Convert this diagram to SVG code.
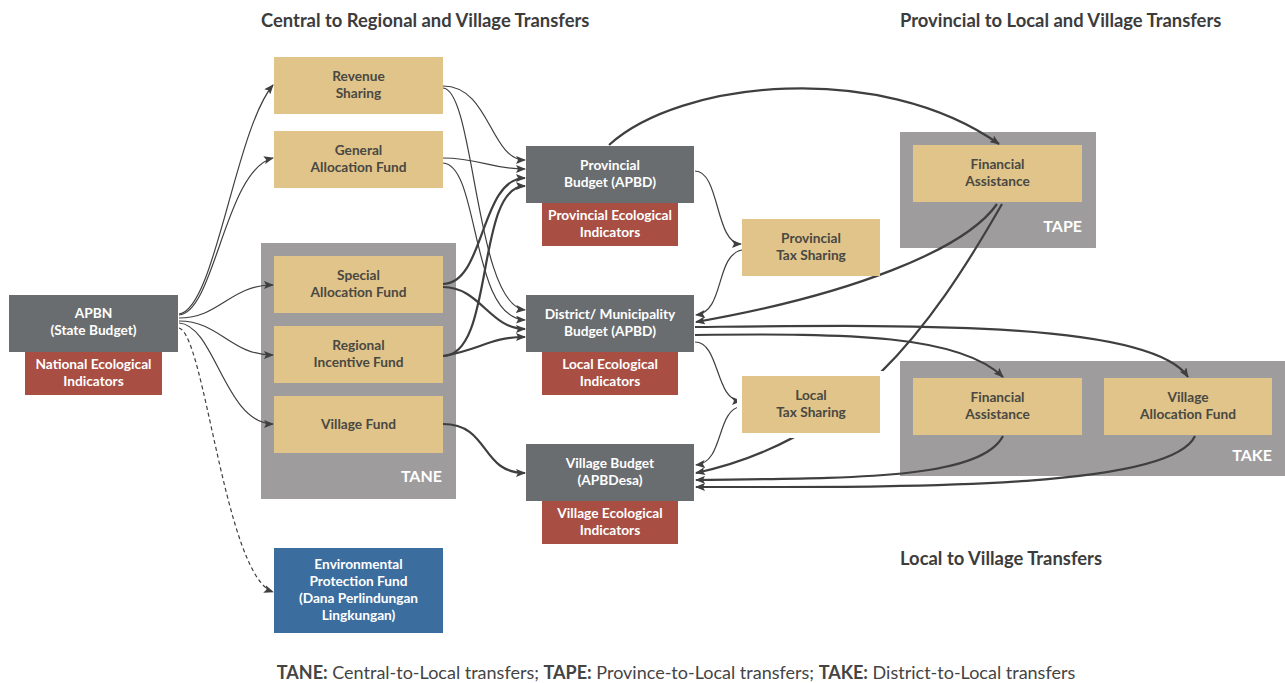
<svg xmlns="http://www.w3.org/2000/svg" width="1285" height="683" viewBox="0 0 1285 683">
<defs>
<style>
.t{font-family:Lato,"Open Sans","Liberation Sans",sans-serif;font-weight:700;font-size:13.7px;text-anchor:middle}
.dk{fill:#4a4843}
.wh{fill:#ffffff}
.tan{fill:#e0c489}
.gry{fill:#6a6d70}
.red{fill:#a84e43}
.blu{fill:#3b6d9f}
.cont{fill:#9e9c9d}
.lbl{font-family:Lato,"Open Sans","Liberation Sans",sans-serif;font-weight:700;font-size:16px;fill:#ffffff;text-anchor:end}
.title{font-family:Lato,"Open Sans","Liberation Sans",sans-serif;font-weight:700;font-size:18.4px;fill:#3c3c3c}
.cap{font-family:Lato,"Open Sans","Liberation Sans",sans-serif;font-size:18px;fill:#444444}
.c{fill:none;stroke:#3f3f3f}
.th{stroke-width:1.2}
.tk{stroke-width:2.2}
.da{stroke-dasharray:4 3}
</style>
<marker id="ah" viewBox="0 0 10 8" refX="9" refY="4" markerWidth="10" markerHeight="8" markerUnits="userSpaceOnUse" orient="auto">
<path d="M0,0 L10,4 L0,8 L2,4 Z" fill="#3f3f3f"/>
</marker>
</defs>
<rect width="1285" height="683" fill="#ffffff"/>

<g id="titles">
<text class="title" x="261" y="27">Central to Regional and Village Transfers</text>
<text class="title" x="900" y="27">Provincial to Local and Village Transfers</text>
<text class="title" x="900" y="565">Local to Village Transfers</text>
</g>

<g id="tane">
<rect class="cont" x="261" y="243" width="195" height="256"/>
<text class="lbl" x="442" y="482">TANE</text>
</g>
<g id="tape">
<rect class="cont" x="900" y="132" width="196" height="116"/>
<text class="lbl" x="1082" y="232">TAPE</text>
</g>
<g id="take">
<rect class="cont" x="900" y="361" width="385" height="115"/>
<text class="lbl" x="1272" y="461">TAKE</text>
</g>

<g id="connectors">
<path class="c th" marker-end="url(#ah)" d="M179,314 C215,310 235,130 273,85"/>
<path class="c th" marker-end="url(#ah)" d="M179,315 C215,312 225,170 273,158"/>
<path class="c th" marker-end="url(#ah)" d="M179,318 C220,318 230,285 273,285"/>
<path class="c th" marker-end="url(#ah)" d="M179,321 C220,321 230,355 273,355"/>
<path class="c th" marker-end="url(#ah)" d="M179,323 C215,325 225,424 273,424"/>
<path class="c th da" marker-end="url(#ah)" d="M179,328 C205,335 225,575 273,592"/>

<path class="c th" marker-end="url(#ah)" d="M443,86 C490,86 490,160 525,160"/>
<path class="c th" marker-end="url(#ah)" d="M443,88 C475,90 475,305 525,310"/>
<path class="c th" marker-end="url(#ah)" d="M443,158 C480,158 490,169 525,169"/>
<path class="c th" marker-end="url(#ah)" d="M443,163 C480,165 470,318 525,320"/>
<path class="c tk" marker-end="url(#ah)" d="M443,284 C485,284 480,178 525,178"/>
<path class="c tk" marker-end="url(#ah)" d="M443,287 C480,287 490,329 525,329"/>
<path class="c tk" marker-end="url(#ah)" d="M443,356 C495,356 475,186 525,186"/>
<path class="c tk" marker-end="url(#ah)" d="M443,356 C480,350 490,337 525,337"/>
<path class="c tk" marker-end="url(#ah)" d="M443,424 C490,424 480,473 525,473"/>

<path class="c th" marker-end="url(#ah)" d="M695,171 C720,171 715,244 741,244"/>
<path class="c th" marker-end="url(#ah)" d="M742,250 C715,255 725,312 696,315"/>
<path class="c tk" marker-end="url(#ah)" d="M609,145 C680,80 880,60 999,144"/>
<path class="c tk" marker-end="url(#ah)" d="M997,204 C965,250 850,295 696,322"/>
<path class="c tk" marker-end="url(#ah)" d="M1002,204 C930,330 850,440 696,473"/>
<path class="c tk" marker-end="url(#ah)" d="M695,327 C900,325 1150,320 1188,377"/>
<path class="c tk" marker-end="url(#ah)" d="M695,335 C850,333 960,335 1003,377"/>
<path class="c th" marker-end="url(#ah)" d="M695,342 C720,342 715,401 741,401"/>
<path class="c th" marker-end="url(#ah)" d="M742,406 C715,410 725,462 696,465"/>
<path class="c tk" marker-end="url(#ah)" d="M1003,436 C980,480 850,478 696,480"/>
<path class="c tk" marker-end="url(#ah)" d="M1195,436 C1170,490 900,487 696,487"/>
</g>

<g id="apbn">
<rect class="gry" x="9" y="295" width="169" height="57"/>
<text class="t wh" x="93.5" y="318">APBN</text>
<text class="t wh" x="93.5" y="335">(State Budget)</text>
</g>
<g id="national-eco">
<rect class="red" x="25" y="352" width="137" height="43"/>
<text class="t wh" x="93.5" y="369">National Ecological</text>
<text class="t wh" x="93.5" y="386">Indicators</text>
</g>

<g id="revenue-sharing">
<rect class="tan" x="274" y="57" width="169" height="57"/>
<text class="t dk" x="358.5" y="81">Revenue</text>
<text class="t dk" x="358.5" y="98">Sharing</text>
</g>
<g id="general-allocation">
<rect class="tan" x="274" y="131" width="169" height="57"/>
<text class="t dk" x="358.5" y="155">General</text>
<text class="t dk" x="358.5" y="172">Allocation Fund</text>
</g>
<g id="special-allocation">
<rect class="tan" x="274" y="256" width="169" height="57"/>
<text class="t dk" x="358.5" y="280">Special</text>
<text class="t dk" x="358.5" y="297">Allocation Fund</text>
</g>
<g id="regional-incentive">
<rect class="tan" x="274" y="326" width="169" height="57"/>
<text class="t dk" x="358.5" y="350">Regional</text>
<text class="t dk" x="358.5" y="367">Incentive Fund</text>
</g>
<g id="village-fund">
<rect class="tan" x="274" y="396" width="169" height="57"/>
<text class="t dk" x="358.5" y="429">Village Fund</text>
</g>
<g id="env-protection">
<rect class="blu" x="274" y="548" width="169" height="85"/>
<text class="t wh" x="358.5" y="569">Environmental</text>
<text class="t wh" x="358.5" y="586">Protection Fund</text>
<text class="t wh" x="358.5" y="603">(Dana Perlindungan</text>
<text class="t wh" x="358.5" y="620">Lingkungan)</text>
</g>

<g id="provincial-budget">
<rect class="gry" x="526" y="146" width="168" height="57"/>
<text class="t wh" x="610" y="170">Provincial</text>
<text class="t wh" x="610" y="187">Budget (APBD)</text>
</g>
<g id="provincial-eco">
<rect class="red" x="542" y="203" width="136" height="43"/>
<text class="t wh" x="610" y="220">Provincial Ecological</text>
<text class="t wh" x="610" y="237">Indicators</text>
</g>
<g id="district-budget">
<rect class="gry" x="526" y="295" width="168" height="57"/>
<text class="t wh" x="610" y="319">District/ Municipality</text>
<text class="t wh" x="610" y="336">Budget (APBD)</text>
</g>
<g id="local-eco">
<rect class="red" x="542" y="352" width="136" height="43"/>
<text class="t wh" x="610" y="369">Local Ecological</text>
<text class="t wh" x="610" y="386">Indicators</text>
</g>
<g id="village-budget">
<rect class="gry" x="526" y="444" width="168" height="57"/>
<text class="t wh" x="610" y="468">Village Budget</text>
<text class="t wh" x="610" y="485">(APBDesa)</text>
</g>
<g id="village-eco">
<rect class="red" x="542" y="501" width="136" height="43"/>
<text class="t wh" x="610" y="518">Village Ecological</text>
<text class="t wh" x="610" y="535">Indicators</text>
</g>

<g id="provincial-tax-sharing">
<rect class="tan" x="742" y="219" width="138" height="57"/>
<text class="t dk" x="811" y="243">Provincial</text>
<text class="t dk" x="811" y="260">Tax Sharing</text>
</g>
<g id="local-tax-sharing">
<rect fill="#ffffff" x="737" y="371" width="148" height="67"/>
<rect class="tan" x="742" y="376" width="138" height="57"/>
<text class="t dk" x="811" y="400">Local</text>
<text class="t dk" x="811" y="417">Tax Sharing</text>
</g>

<g id="tape-financial-assistance">
<rect class="tan" x="913" y="145" width="169" height="57"/>
<text class="t dk" x="997.5" y="169">Financial</text>
<text class="t dk" x="997.5" y="186">Assistance</text>
</g>
<g id="take-financial-assistance">
<rect class="tan" x="913" y="378" width="169" height="57"/>
<text class="t dk" x="997.5" y="402">Financial</text>
<text class="t dk" x="997.5" y="419">Assistance</text>
</g>
<g id="village-allocation-fund">
<rect class="tan" x="1104" y="378" width="168" height="57"/>
<text class="t dk" x="1188" y="402">Village</text>
<text class="t dk" x="1188" y="419">Allocation Fund</text>
</g>

<g id="caption">
<text class="cap" x="676" y="679" text-anchor="middle"><tspan font-weight="700">TANE:</tspan> Central-to-Local transfers; <tspan font-weight="700">TAPE:</tspan> Province-to-Local transfers; <tspan font-weight="700">TAKE:</tspan> District-to-Local transfers</text>
</g>
</svg>
